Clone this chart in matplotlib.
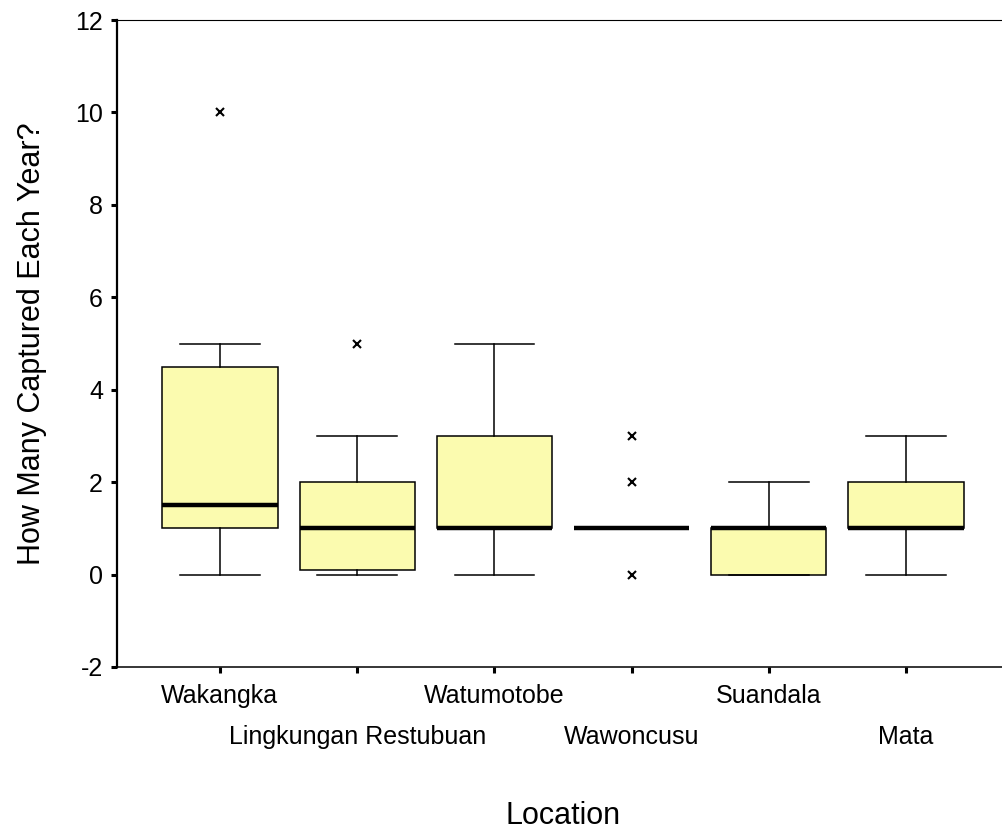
import matplotlib
matplotlib.use("Agg")
import matplotlib.pyplot as plt

plt.rcParams["font.family"] = ["Liberation Sans", "DejaVu Sans"]
plt.rcParams["axes.unicode_minus"] = False

# Per-location box summaries (whisker low, Q1, median, Q3, whisker high, outliers)
locations = ["Wakangka", "Lingkungan Restubuan", "Watumotobe",
             "Wawoncusu", "Suandala", "Mata"]
whisker_lo = [0, 0, 0, 1, 0, 0]
q1 = [1, 0.1, 1, 1, 0, 1]
median = [1.5, 1, 1, 1, 1, 1]
q3 = [4.5, 2, 3, 1, 1, 2]
whisker_hi = [5, 3, 5, 1, 2, 3]
outliers = [[10], [5], [], [0, 2, 3], [], []]

stats = [
    dict(label=name, whislo=lo, q1=a, med=m, q3=b, whishi=hi, fliers=fl)
    for name, lo, a, m, b, hi, fl in zip(
        locations, whisker_lo, q1, median, q3, whisker_hi, outliers)
]

fig = plt.figure(figsize=(10.02, 8.31), dpi=100)
ax = fig.add_axes([117 / 1002, 1 - 667 / 831, 892 / 1002, 647 / 831])

positions = list(range(1, len(locations) + 1))
ax.bxp(
    stats, positions=positions, widths=0.84, capwidths=0.58,
    patch_artist=True,
    boxprops=dict(facecolor="#FBFBAF", edgecolor="black", linewidth=1.1),
    medianprops=dict(color="black", linewidth=3.2, solid_capstyle="butt"),
    whiskerprops=dict(color="black", linewidth=1.1),
    capprops=dict(color="black", linewidth=1.1),
    flierprops=dict(marker="x", markersize=6, markeredgecolor="black",
                    markeredgewidth=1.5),
)

ax.set_xlim(0.25, 6.75)
ax.set_ylim(-2, 12)
ax.set_yticks(range(-2, 13, 2))
ax.set_xticks(positions)
ax.set_xticklabels(locations)

ax.spines["right"].set_visible(False)
ax.spines["left"].set_linewidth(1.6)
ax.spines["bottom"].set_linewidth(1.1)
ax.spines["top"].set_linewidth(0.8)

ax.tick_params(axis="both", direction="out", length=4, width=2.2,
               labelsize=18, colors="black")
ax.tick_params(axis="y", pad=6)
ax.tick_params(axis="x", pad=8)
# stagger the long category names onto two rows
for tick in ax.xaxis.get_major_ticks()[1::2]:
    tick.set_pad(38)

ax.set_ylabel("How Many Captured Each Year?", fontsize=22, labelpad=20)
ax.set_xlabel("Location", fontsize=22, labelpad=37)

fig.savefig("out.png", dpi=100)
